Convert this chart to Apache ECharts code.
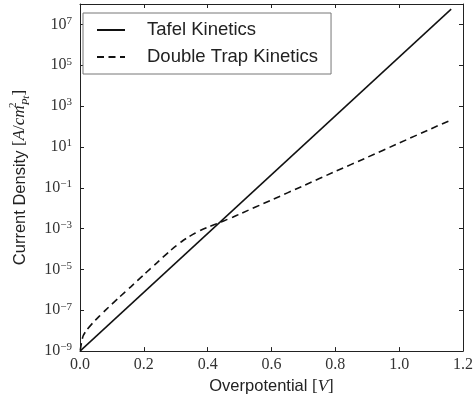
<!DOCTYPE html>
<html>
<head>
<meta charset="utf-8">
<script src="https://cdn.jsdelivr.net/npm/echarts@6/dist/echarts.min.js"></script>
<style>
  html, body { margin: 0; padding: 0; background: #fff; }
  #chart { width: 476px; height: 400px; }
</style>
</head>
<body>
<div id="chart"></div>
<script>
// Tafel kinetics: straight line on the semi-log plot
const tafelPotential = [0, 1.163];
const tafelCurrent = [1e-9, 5.6e7];

// Double trap kinetics
const doubleTrapPotential = [0.001, 0.005, 0.01, 0.02, 0.04, 0.06, 0.08, 0.10, 0.12, 0.14,
  0.16, 0.18, 0.20, 0.22, 0.24, 0.26, 0.28, 0.30, 0.32, 0.34, 0.36, 0.38, 0.40, 0.42, 0.44,
  0.46, 0.48, 0.50, 0.60, 0.70, 0.80, 0.90, 1.00, 1.10, 1.157];
const doubleTrapCurrent = [1.12e-9, 2.82e-9, 5.62e-9, 1.02e-8, 2.40e-8, 5.01e-8, 1.02e-7,
  2.00e-7, 3.89e-7, 7.59e-7, 1.45e-6, 2.82e-6, 5.50e-6, 1.07e-5, 2.04e-5, 3.98e-5, 7.59e-5,
  1.38e-4, 2.40e-4, 3.89e-4, 5.89e-4, 8.51e-4, 1.17e-3, 1.55e-3, 2.04e-3, 2.75e-3, 3.72e-3,
  5.13e-3, 2.51e-2, 1.26e-1, 6.31e-1, 3.09, 15.5, 77.6, 190.5];

// Axis ticks
const xTicks = [0.0, 0.2, 0.4, 0.6, 0.8, 1.0, 1.2];
const decadeTicks = [-9, -7, -5, -3, -1, 1, 3, 5, 7];

const SERIF = "'Liberation Serif', 'DejaVu Serif', serif";
const SANS = "'Liberation Sans', Arial, sans-serif";
const INK = '#222';

// The y axis is drawn in decades (log10 of current density)
const toPairs = (xs, ys) => xs.map((x, i) => [x, Math.log10(ys[i])]);

const powerLabel = v => '{b|10}{s|' + String(v).replace('-', '\u2212') + '}';

const chart = echarts.init(document.getElementById('chart'), null, { renderer: 'canvas' });

const yCommon = {
  type: 'value',
  min: -9,
  max: 8,
  interval: 1,
  splitLine: { show: false },
  axisLine: { show: true, onZero: false, lineStyle: { color: INK, width: 1 } },
  axisTick: { show: true, inside: true, length: 4, customValues: decadeTicks, lineStyle: { color: INK } }
};
const xCommon = {
  type: 'value',
  min: xTicks[0],
  max: xTicks[xTicks.length - 1],
  interval: 0.2,
  splitLine: { show: false },
  axisLine: { show: true, onZero: false, lineStyle: { color: INK, width: 1 } },
  axisTick: { show: true, inside: true, length: 4, lineStyle: { color: INK } }
};

chart.setOption({
  animation: false,
  backgroundColor: '#fff',
  grid: { left: 74, right: 11, top: 4, bottom: 47.5, containLabel: false },
  legend: {
    orient: 'vertical',
    left: 83,
    top: 13,
    padding: [7, 13, 7, 13],
    itemGap: 7,
    itemWidth: 28,
    itemHeight: 14,
    backgroundColor: '#fff',
    borderColor: '#777',
    borderWidth: 1,
    borderRadius: 0,
    // line-only keys: hide the marker drawn on the key line
    itemStyle: { opacity: 0 },
    textStyle: { fontFamily: SANS, fontSize: 18.5, color: INK, lineHeight: 20, padding: [0, 0, 0, 17] },
    data: ['Tafel Kinetics', 'Double Trap Kinetics']
  },
  xAxis: [
    Object.assign({}, xCommon, {
      position: 'bottom',
      name: '{t|Overpotential }{m|[}{i|V}{m|]}',
      nameLocation: 'middle',
      nameGap: 20,
      nameTextStyle: {
        rich: {
          t: { fontFamily: SANS, fontSize: 16.5, color: INK },
          m: { fontFamily: SERIF, fontSize: 17, color: INK },
          i: { fontFamily: SERIF, fontStyle: 'italic', fontSize: 17, color: INK }
        }
      },
      axisLabel: {
        margin: 6,
        fontFamily: SERIF,
        fontSize: 16,
        color: '#333',
        formatter: v => v.toFixed(1)
      }
    }),
    Object.assign({}, xCommon, { position: 'top', axisLabel: { show: false } })
  ],
  yAxis: [
    Object.assign({}, yCommon, {
      position: 'left',
      name: '{t|Current Density }{m|[}{i|A}{m|/}{i|cm}{s|2}{u|Pt}{m|]}',
      nameLocation: 'middle',
      nameGap: 48,
      nameRotate: 90,
      nameTextStyle: {
        rich: {
          t: { fontFamily: SANS, fontSize: 16.5, color: INK, lineHeight: 24 },
          m: { fontFamily: SERIF, fontSize: 17, color: INK, lineHeight: 24 },
          i: { fontFamily: SERIF, fontStyle: 'italic', fontSize: 17, color: INK, lineHeight: 24 },
          s: { fontFamily: SERIF, fontSize: 11, color: INK, lineHeight: 12, verticalAlign: 'top', width: 0 },
          u: { fontFamily: SERIF, fontStyle: 'italic', fontSize: 11, color: INK, lineHeight: 12, verticalAlign: 'bottom' }
        }
      },
      axisLabel: {
        margin: 8,
        customValues: decadeTicks,
        formatter: v => powerLabel(v),
        rich: {
          b: { fontFamily: SERIF, fontSize: 16, color: '#333', lineHeight: 18 },
          s: { fontFamily: SERIF, fontSize: 11, color: '#333', lineHeight: 12, verticalAlign: 'top' }
        }
      }
    }),
    Object.assign({}, yCommon, { position: 'right', axisLabel: { show: false } })
  ],
  series: [
    {
      name: 'Tafel Kinetics',
      type: 'line',
      xAxisIndex: 0,
      yAxisIndex: 0,
      symbol: 'none',
      lineStyle: { color: '#111', width: 1.5, type: 'solid' },
      itemStyle: { color: '#111' },
      data: toPairs(tafelPotential, tafelCurrent)
    },
    {
      name: 'Double Trap Kinetics',
      type: 'line',
      xAxisIndex: 0,
      yAxisIndex: 0,
      symbol: 'none',
      smooth: 0.2,
      lineStyle: { color: '#111', width: 1.6, type: [7, 4.5] },
      itemStyle: { color: '#111' },
      data: toPairs(doubleTrapPotential, doubleTrapCurrent)
    }
  ]
});
</script>
</body>
</html>
